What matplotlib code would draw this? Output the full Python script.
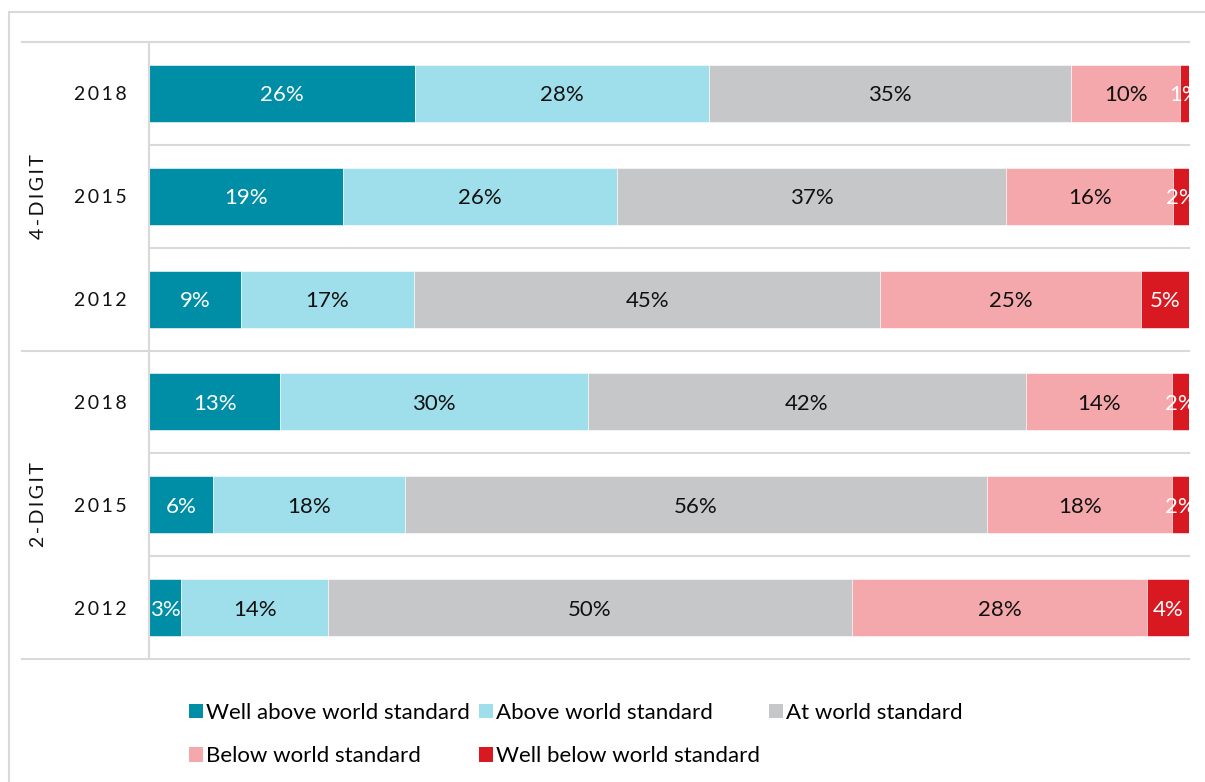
import matplotlib.pyplot as plt
from matplotlib.patches import Patch, Rectangle

plt.rcParams['font.family'] = ['Lato', 'DejaVu Sans']

# rows top to bottom
groups = ['4-DIGIT', '2-DIGIT']
years = ['2018', '2015', '2012', '2018', '2015', '2012']

series = ['Well above world standard', 'Above world standard', 'At world standard',
          'Below world standard', 'Well below world standard']
well_above = [25.6, 18.7, 8.8, 12.6, 6.2, 3.1]
above = [28.2, 26.3, 16.7, 29.6, 18.4, 14.1]
at_std = [34.9, 37.4, 44.8, 42.1, 56.0, 50.4]
below = [10.4, 16.1, 25.1, 14.1, 17.8, 28.4]
well_below = [0.9, 1.5, 4.6, 1.6, 1.6, 4.0]

colors = ['#008DA6', '#9EDFEB', '#C6C7C9', '#F4A8AB', '#D81921']
text_colors = ['white', '#111111', '#111111', '#111111', 'white']

fig = plt.figure(figsize=(12.05, 7.82), dpi=100)
W, H = 1205, 782
ax = fig.add_axes([149 / W, 1 - 659 / H, 1040 / W, 617 / H])

# outer frame
fig.patches.append(Rectangle((9 / W, -0.05), 1.2, 1 - 12 / H + 0.05, transform=fig.transFigure,
                             fill=False, edgecolor='#d9d9d9', linewidth=1.5))

ypos = list(range(len(years)))
data = [well_above, above, at_std, below, well_below]
left = [0] * len(years)
for vals, col, tcol, name in zip(data, colors, text_colors, series):
    ax.barh(ypos, vals, left=left, height=0.555, color=col, edgecolor='white', linewidth=0.4, label=name)
    for y, l, v in zip(ypos, left, vals):
        ax.text(l + v / 2, y, f'{v:.0f}%', ha='center', va='center_baseline', color=tcol,
                fontsize=16, clip_on=True)
    left = [a + b for a, b in zip(left, vals)]

sp = '\u2009'
ax.set_xlim(0, 100)
ax.set_ylim(len(years) - 0.5, -0.5)
ax.set_xticks([])
ax.set_yticks(ypos)
ax.set_yticklabels([sp.join(y) for y in years], fontsize=14, color='#111111',
                   va='center_baseline')
ax.tick_params(axis='y', length=0, pad=16)
for s in ['top', 'right', 'bottom']:
    ax.spines[s].set_visible(False)
ax.spines['left'].set_color('#d9d9d9')
ax.spines['left'].set_linewidth(1.5)

# row separators
x0 = (22 - 149) / 1040
for b in range(len(years) + 1):
    yb = b - 0.5
    if b % 3 == 0:
        ax.plot([x0 * 100, 100], [yb, yb], color='#d9d9d9', linewidth=1.5, clip_on=False)
    else:
        ax.plot([0, 100], [yb, yb], color='#d9d9d9', linewidth=1.5, clip_on=False)

# group labels
for i, g in enumerate(groups):
    ax.text(x0 * 100 + 1.6, i * 3 + 1, sp.join(g), rotation=90, ha='center', va='center',
            fontsize=14, color='#111111', clip_on=False)

handles = [Patch(facecolor=c) for c in colors]
order = [0, 3, 1, 4, 2]
fig.legend([handles[i] for i in order], [series[i] for i in order], ncol=3,
           loc='upper left', bbox_to_anchor=(180 / W, 1 - 694 / H), frameon=False,
           fontsize=16, handlelength=0.62, handleheight=0.62, handletextpad=0.15,
           columnspacing=0.4, labelspacing=1.05, borderaxespad=0)

fig.savefig('out.png', dpi=100)
